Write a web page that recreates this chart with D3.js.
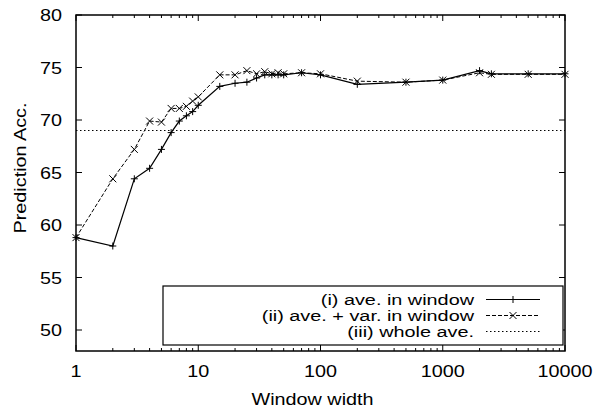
<!DOCTYPE html>
<html>
<head>
<meta charset="utf-8">
<script src="https://cdn.jsdelivr.net/npm/d3@7"></script>
<style>
  body { margin: 0; background: #fff; }
  svg { font-family: "Liberation Sans", Arial, Helvetica, sans-serif; }
</style>
</head>
<body>
<div id="chart"></div>
<script>
// window widths (x) and accuracies
var widths = [1, 2, 3, 4, 5, 6, 7, 8, 9, 10, 15, 20, 25, 30, 35, 40, 45, 50, 70, 100, 200, 500, 1000, 2000, 2500, 5000, 10000];
var aveWin = [58.8, 58.0, 64.4, 65.4, 67.2, 68.8, 69.9, 70.4, 70.8, 71.4, 73.2, 73.5, 73.6, 74.0, 74.3, 74.3, 74.3, 74.3, 74.5, 74.3, 73.4, 73.6, 73.8, 74.7, 74.4, 74.4, 74.4];
var aveVarWin = [58.8, 64.4, 67.2, 69.9, 69.8, 71.1, 71.1, 71.3, 71.8, 72.2, 74.3, 74.3, 74.7, 74.4, 74.6, 74.4, 74.5, 74.4, 74.5, 74.4, 73.7, 73.6, 73.8, 74.5, 74.35, 74.35, 74.35];
var wholeAve = 69.0;
var legendLabels = ["(i) ave. in window", "(ii) ave. + var. in window", "(iii) whole ave."];
var yTicks = [50, 55, 60, 65, 70, 75, 80];
var xTicks = [1, 10, 100, 1000, 10000];

var W = 594, H = 414;
var margin = {top: 15, right: 29, bottom: 63, left: 76};
var width = W - margin.left - margin.right,
    height = H - margin.top - margin.bottom;

var svg = d3.select("#chart").append("svg")
    .attr("width", W)
    .attr("height", H);

var g = svg.append("g")
    .attr("transform", "translate(" + margin.left + "," + margin.top + ")");

var x = d3.scaleLog().domain([1, 10000]).range([0, width]);
var y = d3.scaleLinear().domain([48, 80]).range([height, 0]);

// text is a bit wider than plain Arial in the original
function txt(sel, tx, ty, str, anchor, rot, size, sx) {
    return sel.append("text")
        .attr("transform", "translate(" + tx + "," + ty + ")" + (rot ? " rotate(" + rot + ")" : "") + " scale(" + (sx || 1.2) + ",1)")
        .attr("text-anchor", anchor)
        .style("font-size", (size || 16.5) + "px")
        .text(str);
}

// minor ticks for log axis
var minor = [];
for (var d = 1; d < 10000; d *= 10) {
    for (var k = 2; k <= 9; k++) minor.push(d * k);
}

// tick marks, inside, mirrored on opposite sides
var ticks = g.append("g").attr("stroke", "#000").attr("stroke-width", 1);
yTicks.forEach(function(v) {
    ticks.append("line").attr("x1", 0).attr("x2", 6).attr("y1", y(v)).attr("y2", y(v));
    ticks.append("line").attr("x1", width).attr("x2", width - 6).attr("y1", y(v)).attr("y2", y(v));
});
xTicks.forEach(function(v) {
    ticks.append("line").attr("x1", x(v)).attr("x2", x(v)).attr("y1", height).attr("y2", height - 6);
    ticks.append("line").attr("x1", x(v)).attr("x2", x(v)).attr("y1", 0).attr("y2", 6);
});
minor.forEach(function(v) {
    ticks.append("line").attr("x1", x(v)).attr("x2", x(v)).attr("y1", height).attr("y2", height - 3);
    ticks.append("line").attr("x1", x(v)).attr("x2", x(v)).attr("y1", 0).attr("y2", 3);
});

// tick labels
yTicks.forEach(function(v) {
    txt(g, -14, y(v) + 6, v, "end");
});
xTicks.forEach(function(v) {
    txt(g, x(v), height + 26, v, "middle");
});

// axis titles
txt(g, -50, height / 2 - 15, "Prediction Acc.", "middle", -90);
txt(g, width / 2 - 8, height + 54, "Window width", "middle");

// whole average
g.append("line")
    .attr("x1", 0).attr("x2", width)
    .attr("y1", y(wholeAve)).attr("y2", y(wholeAve))
    .attr("stroke", "#000").attr("stroke-width", 1)
    .attr("stroke-dasharray", "1.5,2.5");

var line = d3.line()
    .x(function(d) { return x(d[0]); })
    .y(function(d) { return y(d[1]); });

var s1 = widths.map(function(w, i) { return [w, aveWin[i]]; });
var s2 = widths.map(function(w, i) { return [w, aveVarWin[i]]; });

g.append("path").datum(s2)
    .attr("fill", "none").attr("stroke", "#000").attr("stroke-width", 1)
    .attr("stroke-dasharray", "4,2")
    .attr("d", line);

g.append("path").datum(s1)
    .attr("fill", "none").attr("stroke", "#000").attr("stroke-width", 1.2)
    .attr("d", line);

function plus(sel, cx, cy) {
    sel.append("path")
        .attr("d", "M" + (cx - 3.5) + "," + cy + "H" + (cx + 3.5) + "M" + cx + "," + (cy - 3.5) + "V" + (cy + 3.5))
        .attr("stroke", "#000").attr("stroke-width", 1);
}
function cross(sel, cx, cy) {
    var r = 3.5;
    sel.append("path")
        .attr("d", "M" + (cx - r) + "," + (cy - r) + "L" + (cx + r) + "," + (cy + r) + "M" + (cx - r) + "," + (cy + r) + "L" + (cx + r) + "," + (cy - r))
        .attr("stroke", "#000").attr("stroke-width", 1);
}

var marks = g.append("g");
s2.forEach(function(d) { cross(marks, x(d[0]), y(d[1])); });
s1.forEach(function(d) { plus(marks, x(d[0]), y(d[1])); });

// legend
var lg = g.append("g");
lg.append("rect")
    .attr("x", 87).attr("y", 271)
    .attr("width", width - 89).attr("height", 59)
    .attr("fill", "#fff").attr("stroke", "#000").attr("stroke-width", 1.2);

[0, 1, 2].forEach(function(i) {
    var ly = 284.5 + i * 16;
    txt(lg, 398, ly + 5.5, legendLabels[i], "end", 0, 15.5, 1.28);
    var l = lg.append("line")
        .attr("x1", 410).attr("x2", 464)
        .attr("y1", ly).attr("y2", ly)
        .attr("stroke", "#000").attr("stroke-width", 1);
    if (i === 1) l.attr("stroke-dasharray", "4,2");
    if (i === 2) l.attr("stroke-dasharray", "1.5,2.5");
    if (i === 0) plus(lg, 437, ly);
    if (i === 1) cross(lg, 437, ly);
});

// frame
g.append("rect")
    .attr("x", 0).attr("y", 0)
    .attr("width", width).attr("height", height)
    .attr("fill", "none").attr("stroke", "#000").attr("stroke-width", 1.5);
</script>
</body>
</html>
